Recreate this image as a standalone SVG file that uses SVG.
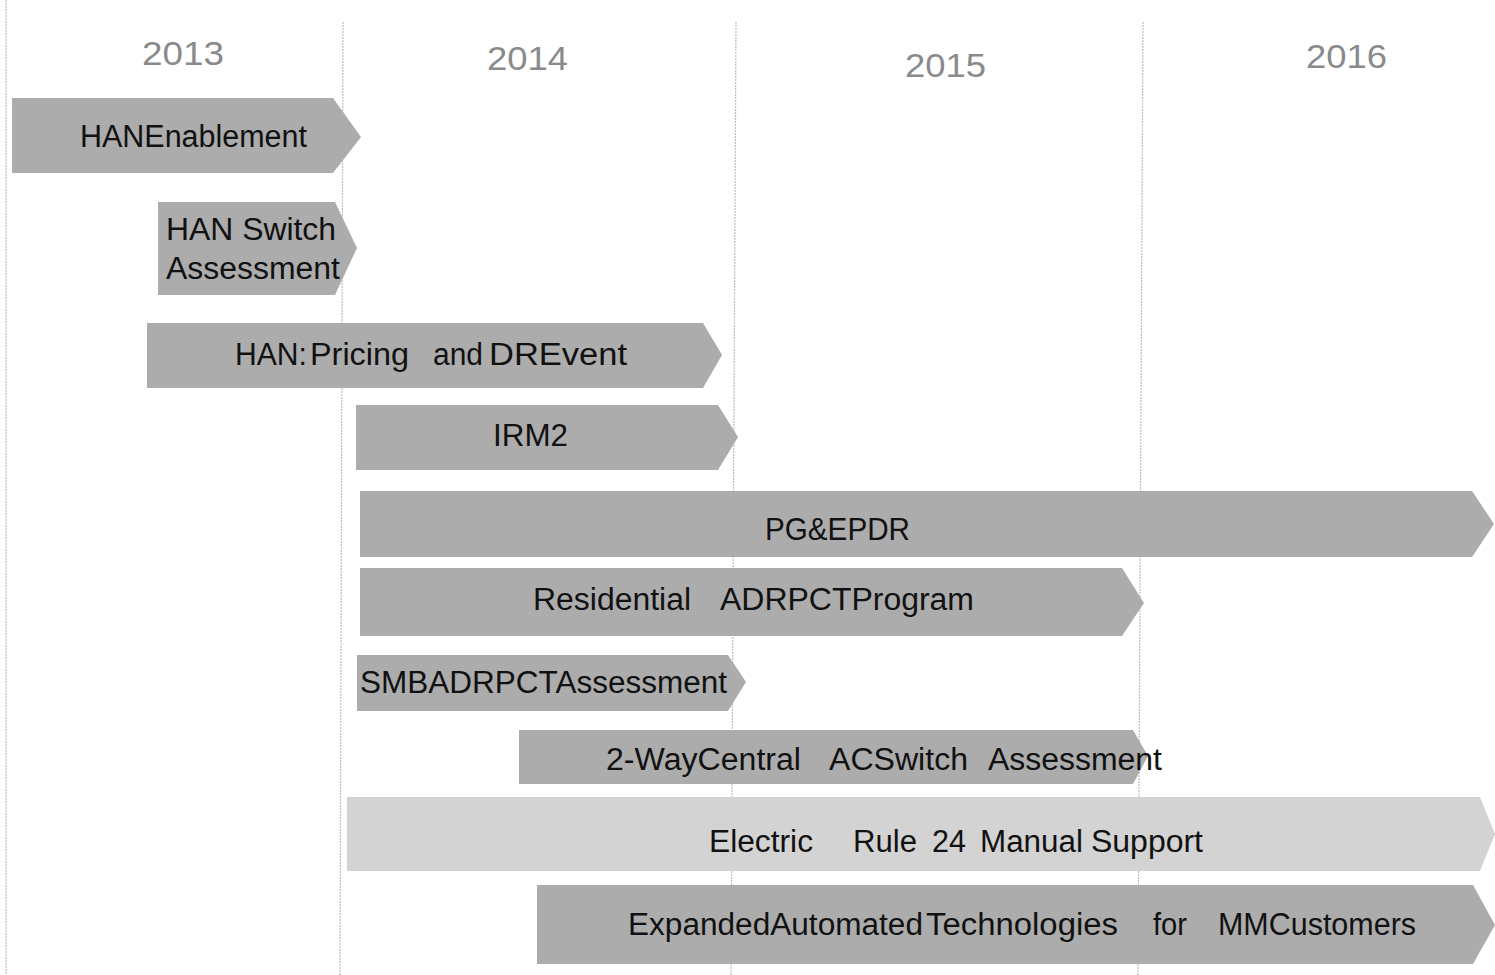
<svg xmlns="http://www.w3.org/2000/svg" width="1495" height="975" viewBox="0 0 1495 975">
<style>
.bar{fill:#acacac;}
.bar-light{fill:#d3d3d3;}
.lbl{font-family:"Liberation Sans",Arial,sans-serif;font-size:31px;fill:#111;}
.yr{font-family:"Liberation Sans",Arial,sans-serif;font-size:34px;fill:#8a8a8a;}
.grid{stroke:#bdbdbd;stroke-width:1.2;stroke-dasharray:2 1;fill:none;}
</style>
<rect width="1495" height="975" fill="#ffffff"/>
<g id="grid">
<line class="grid" x1="6" y1="0" x2="6" y2="975"/>
<line class="grid" x1="343" y1="22" x2="340" y2="975"/>
<line class="grid" x1="736" y1="22" x2="731" y2="975"/>
<line class="grid" x1="1143" y1="22" x2="1138" y2="975"/>
</g>
<g id="years">
<text class="yr" x="142" y="65" textLength="82" lengthAdjust="spacingAndGlyphs">2013</text>
<text class="yr" x="487" y="70" textLength="81" lengthAdjust="spacingAndGlyphs">2014</text>
<text class="yr" x="905" y="77" textLength="81" lengthAdjust="spacingAndGlyphs">2015</text>
<text class="yr" x="1306" y="68" textLength="81" lengthAdjust="spacingAndGlyphs">2016</text>
</g>
<g id="connectors"></g>
<g id="n1">
<polygon class="bar" points="12,98 333,98 361,137 333,173 12,173"/>
<text class="lbl" x="80" y="147" textLength="227" lengthAdjust="spacingAndGlyphs">HANEnablement</text>
</g>
<g id="n2">
<polygon class="bar" points="158,202 335,202 357,248 335,295 158,295"/>
<text class="lbl" x="166" y="240" textLength="170" lengthAdjust="spacingAndGlyphs">HAN Switch</text>
<text class="lbl" x="166" y="279" textLength="174" lengthAdjust="spacingAndGlyphs">Assessment</text>
</g>
<g id="n3">
<polygon class="bar" points="147,323 703,323 722,355 703,388 147,388"/>
<text class="lbl" x="235" y="365" textLength="72" lengthAdjust="spacingAndGlyphs">HAN:</text>
<text class="lbl" x="310" y="365" textLength="99" lengthAdjust="spacingAndGlyphs">Pricing</text>
<text class="lbl" x="433" y="365" textLength="50" lengthAdjust="spacingAndGlyphs">and</text>
<text class="lbl" x="489" y="365" textLength="138" lengthAdjust="spacingAndGlyphs">DREvent</text>
</g>
<g id="n4">
<polygon class="bar" points="356,405 718,405 738,437 718,470 356,470"/>
<text class="lbl" x="493" y="446" textLength="75" lengthAdjust="spacingAndGlyphs">IRM2</text>
</g>
<g id="n5">
<polygon class="bar" points="360,491 1472,491 1494,524 1472,557 360,557"/>
<text class="lbl" x="765" y="540" textLength="145" lengthAdjust="spacingAndGlyphs">PG&amp;EPDR</text>
</g>
<g id="n6">
<polygon class="bar" points="360,568 1122,568 1144,603 1122,636 360,636"/>
<text class="lbl" x="533" y="610" textLength="158" lengthAdjust="spacingAndGlyphs">Residential</text>
<text class="lbl" x="720" y="610" textLength="254" lengthAdjust="spacingAndGlyphs">ADRPCTProgram</text>
</g>
<g id="n7">
<polygon class="bar" points="357,655 728,655 746,682 728,711 357,711"/>
<text class="lbl" x="360" y="693" textLength="367" lengthAdjust="spacingAndGlyphs">SMBADRPCTAssessment</text>
</g>
<g id="n8">
<polygon class="bar" points="519,730 1133,730 1148,756 1133,784 519,784"/>
<text class="lbl" x="606" y="770" textLength="195" lengthAdjust="spacingAndGlyphs">2-WayCentral</text>
<text class="lbl" x="829" y="770" textLength="139" lengthAdjust="spacingAndGlyphs">ACSwitch</text>
<text class="lbl" x="988" y="770" textLength="174" lengthAdjust="spacingAndGlyphs">Assessment</text>
</g>
<g id="n9">
<polygon class="bar-light" points="347,797 1480,797 1495,834 1480,871 347,871"/>
<text class="lbl" x="709" y="852" textLength="104" lengthAdjust="spacingAndGlyphs">Electric</text>
<text class="lbl" x="853" y="852" textLength="64" lengthAdjust="spacingAndGlyphs">Rule</text>
<text class="lbl" x="932" y="852" textLength="34" lengthAdjust="spacingAndGlyphs">24</text>
<text class="lbl" x="980" y="852" textLength="103" lengthAdjust="spacingAndGlyphs">Manual</text>
<text class="lbl" x="1091" y="852" textLength="112" lengthAdjust="spacingAndGlyphs">Support</text>
</g>
<g id="n10">
<polygon class="bar" points="537,885 1473,885 1495,925 1473,964 537,964"/>
<text class="lbl" x="628" y="935" textLength="295" lengthAdjust="spacingAndGlyphs">ExpandedAutomated</text>
<text class="lbl" x="926" y="935" textLength="192" lengthAdjust="spacingAndGlyphs">Technologies</text>
<text class="lbl" x="1153" y="935" textLength="34" lengthAdjust="spacingAndGlyphs">for</text>
<text class="lbl" x="1218" y="935" textLength="198" lengthAdjust="spacingAndGlyphs">MMCustomers</text>
</g>
</svg>
